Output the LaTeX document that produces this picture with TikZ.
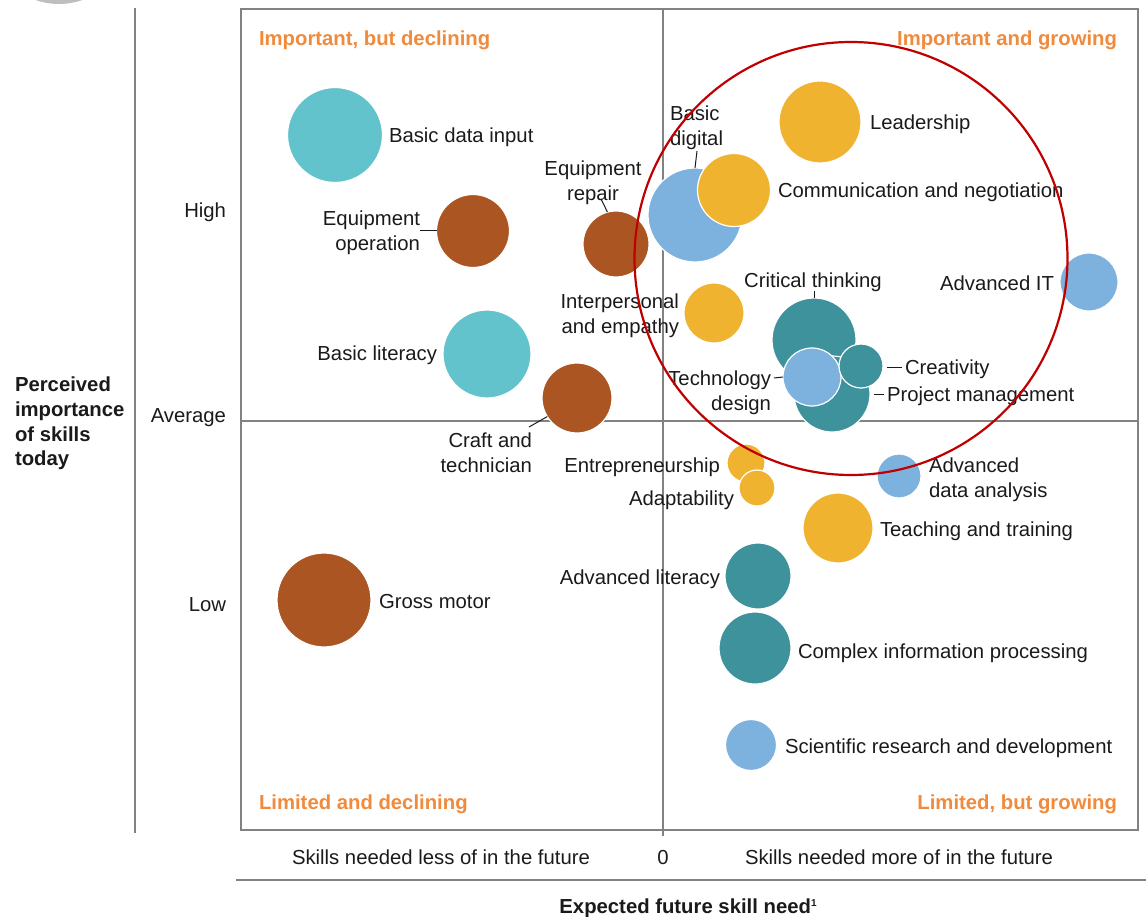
\documentclass[tikz,border=0pt]{standalone}
\usepackage{fontspec}
\setmainfont{Liberation Sans}
\definecolor{cyanb}{RGB}{99,195,204}
\definecolor{brownb}{RGB}{171,86,34}
\definecolor{blueb}{RGB}{125,177,222}
\definecolor{yellowb}{RGB}{240,179,48}
\definecolor{tealb}{RGB}{61,146,155}
\definecolor{orng}{RGB}{240,138,60}
\definecolor{redc}{RGB}{192,0,0}
\definecolor{axgray}{RGB}{130,130,130}
\definecolor{txtc}{RGB}{26,26,26}
\definecolor{topgray}{RGB}{190,190,190}
\tikzset{
  bub/.style={circle, inner sep=0pt, outer sep=0pt, draw=white, line width=1.2pt},
  lbl/.style={font=\fontsize{20.3}{24.8}\selectfont, text=txtc, inner sep=0pt, outer sep=0pt},
  blbl/.style={lbl, font=\fontsize{20.3}{24.8}\selectfont\bfseries},
  quad/.style={lbl, font=\fontsize{20.3}{24.8}\selectfont\bfseries, text=orng},
  leader/.style={draw=txtc, line width=1pt},
  axline/.style={draw=axgray, line width=1.5pt},
}
\begin{document}
\begin{tikzpicture}[x=1pt,y=-1pt]
\useasboundingbox (0,0) rectangle (1146,917);
\begin{scope}
  \clip (0,0) rectangle (1146,917);
  \fill[topgray] (59,-66) circle[radius=70];
\end{scope}

% axes and frame
\draw[axline] (135,8) -- (135,833);
\draw[axline] (241,9) rectangle (1138,830);
\draw[axline] (663,9) -- (663,836);
\draw[axline] (241,421) -- (1138,421);
\draw[axline] (236,880) -- (1146,880);

% quadrant labels
\node[quad, anchor=base west] (q1) at (259,45.3) {Important, but declining};
\node[quad, anchor=base east] (q2) at (1117,45.3) {Important and growing};
\node[quad, anchor=base west] (q3) at (259,809.3) {Limited and declining};
\node[quad, anchor=base east] (q4) at (1117,809.3) {Limited, but growing};

% y axis
\node[lbl, anchor=base east] (yh) at (226,217.3) {High};
\node[lbl, anchor=base east] (ya) at (226,422.3) {Average};
\node[lbl, anchor=base east] (yl) at (226,611.3) {Low};
\node[blbl, anchor=north west, align=left] (ytitle) at (15,376.7) {Perceived\\importance\\of skills\\today};

% x axis
\node[lbl, anchor=base west] (xl) at (292,864.3) {Skills needed less of in the future};
\node[lbl, anchor=base] (x0) at (663,864.3) {0};
\node[lbl, anchor=base west] (xm) at (745,864.3) {Skills needed more of in the future};
\node[blbl, anchor=base] (xtitle) at (688,913.3) {Expected future skill need\raisebox{7pt}{\fontsize{10}{10}\selectfont 1}};

% bubbles: left half
\node[bub, fill=cyanb, minimum size=95pt] (bdi) at (335,135) {};
\node[bub, fill=brownb, minimum size=73pt] (eo) at (473,231) {};
\node[bub, fill=brownb, minimum size=66pt] (er) at (616,244) {};
\node[bub, fill=cyanb, minimum size=88pt] (bl) at (487,354) {};
\node[bub, fill=brownb, minimum size=70pt] (ct) at (577,398) {};
\node[bub, fill=brownb, minimum size=94pt] (gm) at (324,600) {};

% bubbles: right half
\node[bub, fill=blueb, minimum size=94pt] (bd) at (695,215) {};
\node[bub, fill=yellowb, minimum size=73pt] (cn) at (734,190) {};
\node[bub, fill=yellowb, minimum size=82pt] (ld) at (820,122) {};
\node[bub, fill=blueb, minimum size=58pt] (ait) at (1089,282) {};
\node[bub, fill=yellowb, minimum size=60pt] (ie) at (714,313) {};
\node[bub, fill=tealb, minimum size=84pt] (cth) at (814,340) {};
\node[bub, fill=tealb, minimum size=76pt] (pm) at (832,394) {};
\node[bub, fill=blueb, minimum size=58pt] (td) at (812,377) {};
\node[bub, fill=tealb, minimum size=44pt] (cr) at (861,366) {};
\node[bub, fill=yellowb, minimum size=38pt] (en) at (746,463) {};
\node[bub, fill=yellowb, minimum size=36pt] (ad) at (757,488) {};
\node[bub, fill=blueb, minimum size=44pt] (ada) at (899,476) {};
\node[bub, fill=yellowb, minimum size=70pt] (tt) at (838,528) {};
\node[bub, fill=tealb, minimum size=66pt] (al) at (758,576) {};
\node[bub, fill=tealb, minimum size=72pt] (cip) at (755,648) {};
\node[bub, fill=blueb, minimum size=51pt] (sci) at (751,745) {};

% labels
\node[lbl, anchor=base west] (bdiL) at (389,142.3) {Basic data input};
\node[lbl, anchor=north east, align=right] (eoL) at (420,210.7) {Equipment\\operation};
\node[lbl, anchor=north, align=center] (erL) at (593,160.7) {Equipment\\repair};
\node[lbl, anchor=base east] (blL) at (437,360.3) {Basic literacy};
\node[lbl, anchor=north east, align=right] (ctL) at (532,432.7) {Craft and\\technician};
\node[lbl, anchor=base west] (gmL) at (379,608.3) {Gross motor};
\node[lbl, anchor=north west, align=left] (bdL) at (670,105.7) {Basic\\digital};
\node[lbl, anchor=base west] (cnL) at (778,197.3) {Communication and negotiation};
\node[lbl, anchor=base west] (ldL) at (870,129.3) {Leadership};
\node[lbl, anchor=base east] (aitL) at (1054,290.3) {Advanced IT};
\node[lbl, anchor=north east, align=right] (ieL) at (679,293.7) {Interpersonal\\and empathy};
\node[lbl, anchor=base] (cthL) at (813,287.3) {Critical thinking};
\node[lbl, anchor=base west] (crL) at (905,374.3) {Creativity};
\node[lbl, anchor=base west] (pmL) at (887,401.3) {Project management};
\node[lbl, anchor=north east, align=right] (tdL) at (771,370.7) {Technology\\design};
\node[lbl, anchor=base east] (enL) at (720,472.3) {Entrepreneurship};
\node[lbl, anchor=base east] (adL) at (734,505.3) {Adaptability};
\node[lbl, anchor=north west, align=left] (adaL) at (929,457.7) {Advanced\\data analysis};
\node[lbl, anchor=base west] (ttL) at (880,536.3) {Teaching and training};
\node[lbl, anchor=base east] (alL) at (720,584.3) {Advanced literacy};
\node[lbl, anchor=base west] (cipL) at (798,658.3) {Complex information processing};
\node[lbl, anchor=base west] (sciL) at (785,753.3) {Scientific research and development};

% leader lines
\coordinate (eoA) at (420,231);
\draw[leader] (eoA) -- (eo.west);
\coordinate (erA) at (601,199);
\draw[leader] (erA) -- (er.105);
\coordinate (ctA) at (529,427);
\draw[leader] (ctA) -- (ct.212);
\coordinate (bdA) at (697,151);
\draw[leader] (bdA) -- (bd.north);
\coordinate (cthA) at (814,291);
\draw[leader] (cthA) -- (cth.north);
\coordinate (tdA) at (774,378);
\draw[leader] (tdA) -- (td.west);
\coordinate (crA) at (887,367);
\coordinate (crB) at (902,367);
\draw[leader] (crA) -- (crB);
\coordinate (pmA) at (874,394);
\coordinate (pmB) at (884,394);
\draw[leader] (pmA) -- (pmB);

% highlight circle
\draw[redc, line width=2.2pt] (851,258.5) circle[radius=216.5];
\end{tikzpicture}
\end{document}
